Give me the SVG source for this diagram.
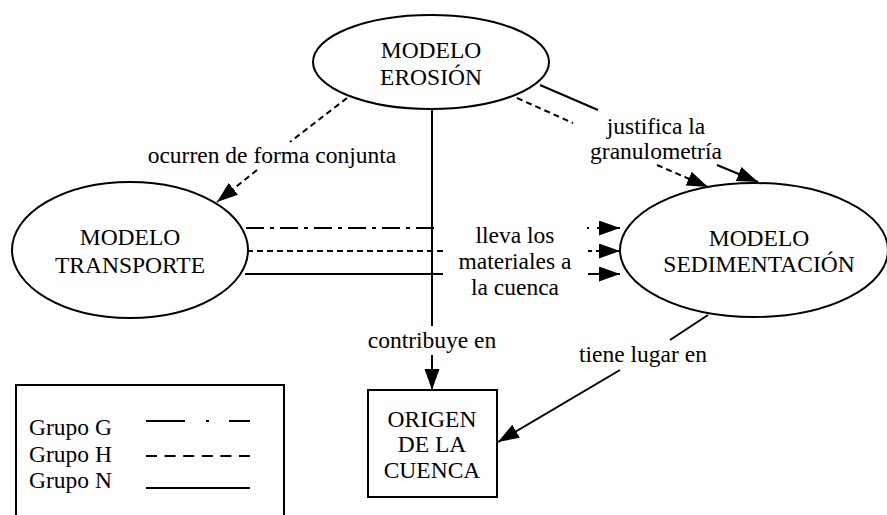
<svg xmlns="http://www.w3.org/2000/svg" width="887" height="515" viewBox="0 0 887 515">
<defs>
<marker id="ah" markerUnits="userSpaceOnUse" markerWidth="22" markerHeight="16" refX="21" refY="7.5" orient="auto">
<path d="M0,0 L21,7.5 L0,15 z" fill="#000" stroke="none"/>
</marker>
<style>
text{font-family:"Liberation Serif","Times New Roman",serif;font-size:23.5px;fill:#000;text-anchor:middle}
.node{fill:#fff;stroke:#000;stroke-width:2}
.c{fill:none;stroke:#000;stroke-width:2}
.d{stroke-dasharray:6 4}
.dd{stroke-dasharray:18 6 4 6}
.leg text{text-anchor:start}
</style>
</defs>
<rect width="887" height="515" fill="#fff"/>
<g id="connectors">
<path class="c d" d="M347,98 L290,142"/>
<path class="c d" d="M257,170 L217,202" marker-end="url(#ah)"/>
<path class="c" d="M432,108 L432,326"/>
<path class="c" d="M432,355 L432,390" marker-end="url(#ah)"/>
<path class="c" d="M540,85 L598,110"/>
<path class="c" d="M717,165 L758,182" marker-end="url(#ah)"/>
<path class="c d" d="M517,98 L573,123"/>
<path class="c d" d="M657,165 L708,187" marker-end="url(#ah)"/>
<path class="c dd" d="M246,228 L437,228"/>
<path class="c" d="M587,228 L589,228"/>
<path class="c" d="M597,228 L620,228" marker-end="url(#ah)"/>
<path class="c d" d="M247,251 L443,251"/>
<path class="c" d="M588,251 L592,251"/>
<path class="c" d="M596,251 L620,251" marker-end="url(#ah)"/>
<path class="c" d="M245,274 L443,274"/>
<path class="c" d="M588,274 L620,274" marker-end="url(#ah)"/>
<path class="c" d="M708,315 L670,340"/>
<path class="c" d="M620,370 L498,442" marker-end="url(#ah)"/>
<text x="272" y="163">ocurren de forma conjunta</text>
<text x="656" y="134">justifica la</text>
<text x="656" y="159">granulometría</text>
<text x="515" y="243">lleva los</text>
<text x="515" y="269">materiales a</text>
<text x="515" y="295">la cuenca</text>
<text x="432" y="348">contribuye en</text>
<text x="643" y="362">tiene lugar en</text>
</g>
<g id="erosion">
<ellipse class="node" cx="431" cy="62" rx="118" ry="47"/>
<text x="431" y="58">MODELO</text>
<text x="431" y="85">EROSIÓN</text>
</g>
<g id="transporte">
<ellipse class="node" cx="130" cy="250" rx="118" ry="68"/>
<text x="130" y="245">MODELO</text>
<text x="130" y="273">TRANSPORTE</text>
</g>
<g id="sedimentacion">
<ellipse class="node" cx="754" cy="250" rx="134" ry="67"/>
<text x="759" y="246">MODELO</text>
<text x="759" y="272">SEDIMENTACIÓN</text>
</g>
<g id="origen">
<rect class="node" x="368" y="390" width="129" height="107"/>
<text x="432" y="427">ORIGEN</text>
<text x="432" y="452">DE LA</text>
<text x="432" y="478">CUENCA</text>
</g>
<g id="legend" class="leg">
<rect class="node" x="16" y="385" width="268" height="140"/>
<text x="29" y="435">Grupo G</text>
<text x="29" y="462">Grupo H</text>
<text x="29" y="488">Grupo N</text>
<path class="c" d="M146,421 L185,421 M206,421 L209,421 M229,421 L250,421"/>
<path class="c" d="M146,456 L250,456" stroke-dasharray="11 7.6"/>
<path class="c" d="M146,488 L250,488"/>
</g>
</svg>
